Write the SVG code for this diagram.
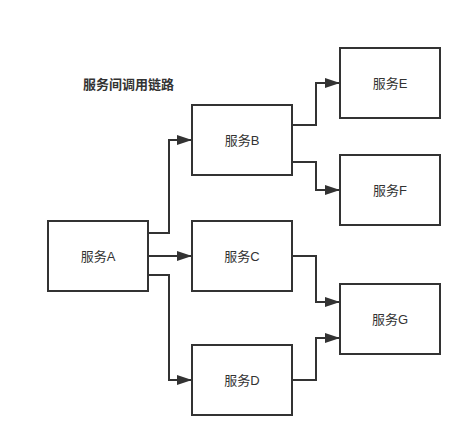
<svg xmlns="http://www.w3.org/2000/svg" width="472" height="447" viewBox="0 0 472 447">
<defs>
<marker id="arr" markerWidth="16" markerHeight="10" refX="15" refY="5" orient="auto" markerUnits="userSpaceOnUse">
<path d="M0,0 L15,5 L0,10 Z" fill="#333"/>
</marker>
<style>
.box{fill:#fff;stroke:#333;stroke-width:2}
.lbl{font-family:"Liberation Sans","Noto Sans CJK SC",sans-serif;font-size:13px;fill:#333;text-anchor:middle;dominant-baseline:central}
.edge{fill:none;stroke:#333;stroke-width:2;marker-end:url(#arr)}
.title{font-family:"Noto Sans CJK SC",sans-serif;font-size:13px;font-weight:bold;fill:#333}
</style>
</defs>
<rect width="472" height="447" fill="#fff"/>
<text class="title" x="83" y="89">服务间调用链路</text>
<g id="edges">
<path class="edge" d="M148,233 H169 V140 H192"/>
<path class="edge" d="M148,256 H192"/>
<path class="edge" d="M148,275 H169 V380 H192"/>
<path class="edge" d="M292,125 H316 V83 H340"/>
<path class="edge" d="M292,162 H316 V190 H340"/>
<path class="edge" d="M292,256 H316 V302 H340"/>
<path class="edge" d="M292,380 H316 V338 H340"/>
</g>
<g id="A"><rect class="box" x="48" y="221" width="100" height="70"/><text class="lbl" x="98" y="256">服务A</text></g>
<g id="B"><rect class="box" x="192" y="105" width="100" height="70"/><text class="lbl" x="242" y="140">服务B</text></g>
<g id="C"><rect class="box" x="192" y="221" width="100" height="70"/><text class="lbl" x="242" y="256">服务C</text></g>
<g id="D"><rect class="box" x="192" y="345" width="100" height="70"/><text class="lbl" x="242" y="380">服务D</text></g>
<g id="E"><rect class="box" x="340" y="48" width="100" height="70"/><text class="lbl" x="390" y="83">服务E</text></g>
<g id="F"><rect class="box" x="340" y="155" width="100" height="70"/><text class="lbl" x="390" y="190">服务F</text></g>
<g id="G"><rect class="box" x="340" y="284" width="100" height="70"/><text class="lbl" x="390" y="319">服务G</text></g>
</svg>
